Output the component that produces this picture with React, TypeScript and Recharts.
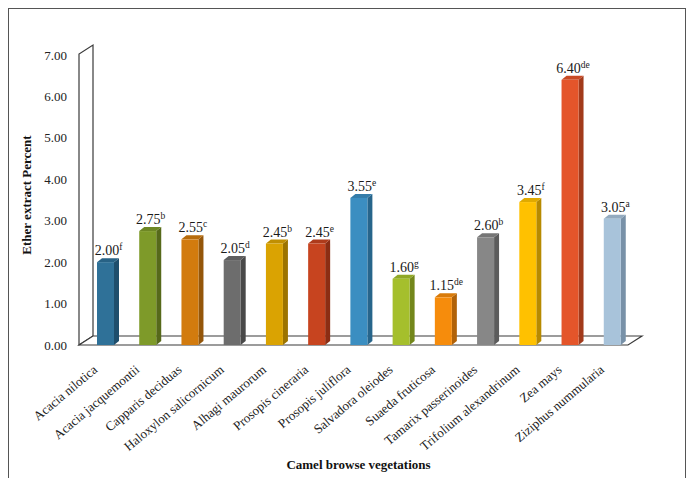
import React from 'react';
import { BarChart, Bar, XAxis, YAxis, ReferenceArea, LabelList, Label } from 'recharts';

const categories = [
  'Acacia nilotica',
  'Acacia jacquemontii',
  'Capparis deciduas',
  'Haloxylon salicornicum',
  'Alhagi maurorum',
  'Prosopis cineraria',
  'Prosopis juliflora',
  'Salvadora oleiodes',
  'Suaeda fruticosa',
  'Tamarix passerinoides',
  'Trifolium alexandrinum',
  'Zea mays',
  'Ziziphus nummularia',
];
const values = [2.0, 2.75, 2.55, 2.05, 2.45, 2.45, 3.55, 1.6, 1.15, 2.6, 3.45, 6.4, 3.05];
const letters = ['f', 'b', 'c', 'd', 'b', 'e', 'e', 'g', 'de', 'b', 'f', 'de', 'a'];
const yTicks = [0, 1, 2, 3, 4, 5, 6, 7];

const frontColors = ['#2F7198', '#7E9A29', '#D27B0E', '#6D6D6D', '#DAA302', '#C7441F', '#3B8EC1', '#A5BF2C', '#F68C0C', '#878787', '#FFC100', '#E4552A', '#A8C3DA'];
const sideColors = ['#1E4E6C', '#56691A', '#94560A', '#494949', '#9C7400', '#8C2D13', '#27658B', '#73871B', '#B16208', '#5C5C5C', '#B78A00', '#A23A1B', '#7891A8'];
const topColors = ['#286285', '#6E8724', '#B76C0C', '#5E5E5E', '#C08F02', '#AE3B1B', '#337CA9', '#91A826', '#D97B0A', '#767676', '#E0AA00', '#C84A24', '#93AABF'];

const data = categories.map((name, i) => ({ name, value: values[i], letter: letters[i] }));

const FONT = '"Liberation Serif", "Times New Roman", serif';
const DEPTH_X = 5;
const DEPTH_Y = 4;

function Bar3D(props: any) {
  const { x, y, width, height, index } = props;
  if (width == null || height == null) return null;
  const f = frontColors[index % frontColors.length];
  const s = sideColors[index % sideColors.length];
  const t = topColors[index % topColors.length];
  const side = `${x + width},${y} ${x + width + DEPTH_X},${y - DEPTH_Y} ${x + width + DEPTH_X},${y + height - DEPTH_Y} ${x + width},${y + height}`;
  const top = `${x},${y} ${x + DEPTH_X},${y - DEPTH_Y} ${x + width + DEPTH_X},${y - DEPTH_Y} ${x + width},${y}`;
  return (
    <g>
      <polygon points={side} fill={s} />
      <polygon points={top} fill={t} />
      <rect x={x} y={y} width={width} height={height} fill={f} />
    </g>
  );
}

function WallShape(props: any) {
  const { x, y, width, height } = props;
  const L = x;
  const T = y;
  const B = y + height;
  const R = x + width;
  const dx = 14;
  const dy = 9;
  const fl = L - 5;
  const fr = R - 5;
  const st = { stroke: '#3a3a3a', strokeWidth: 1.2 } as const;
  return (
    <g>
      <polygon points={`${fl},${B} ${fl},${T - 1} ${fl + dx},${T - 1 - dy} ${fl + dx},${B - dy}`} {...st} fill="#ffffff" />
      <polygon points={`${fl},${B} ${fl + dx},${B - dy} ${fr + dx},${B - dy} ${fr},${B}`} {...st} fill="#ffffff" />
    </g>
  );
}

function XTick(props: any) {
  const { x, y, payload } = props;
  const ax = x - 7;
  const ay = y + 18;
  return (
    <text
      x={ax}
      y={ay}
      transform={`rotate(-40, ${ax}, ${ay})`}
      textAnchor="end"
      fontFamily={FONT}
      fontSize={13}
      fill="#222"
      style={{ fill: '#222' }}
    >
      {payload.value}
    </text>
  );
}

function YTick(props: any) {
  const { x, y, payload } = props;
  return (
    <text x={x} y={y + 4.5} textAnchor="end" fontFamily={FONT} fontSize={13} fill="#222" style={{ fill: '#222' }}>
      {Number(payload.value).toFixed(2)}
    </text>
  );
}

function ValueLabel(props: any) {
  const { x, y, width, value, index } = props;
  const letter = letters[index] ?? '';
  return (
    <text
      x={x + width / 2 + 3}
      y={y - 7}
      textAnchor="middle"
      fontFamily={FONT}
      fontSize={14}
      fill="#1a1a1a"
      style={{ fill: '#1a1a1a' }}
    >
      {Number(value).toFixed(2)}
      <tspan fontSize={9.5} dy={-5} style={{ fill: '#1a1a1a' }}>{letter}</tspan>
    </text>
  );
}

export default function App() {
  return (
    <div
      style={{
        width: 678,
        height: 480,
        border: '1px solid #555',
        boxSizing: 'border-box',
        background: '#fff',
      }}
    >
      <BarChart
        width={676}
        height={470}
        data={data}
        margin={{ top: 46, right: 52, left: 0, bottom: 34 }}
        barCategoryGap={0}
      >
        <ReferenceArea y1={0} y2={7} shape={<WallShape />} ifOverflow="visible" />
        <XAxis
          dataKey="name"
          interval={0}
          height={100}
          axisLine={false}
          tickLine={false}
          tick={<XTick />}
        >
          <Label
            content={(p: any) => {
              const vb = p.viewBox || {};
              return (
                <text
                  x={vb.x + vb.width / 2}
                  y={vb.y + 124}
                  textAnchor="middle"
                  fontFamily={FONT}
                  fontSize={13}
                  fontWeight="bold"
                  fill="#111"
                >
                  Camel browse vegetations
                </text>
              );
            }}
          />
        </XAxis>
        <YAxis
          domain={[0, 7]}
          ticks={yTicks}
          width={75}
          axisLine={false}
          tickLine={false}
          tickSize={0}
          tickMargin={17}
          tick={<YTick />}
        >
          <Label
            content={(p: any) => {
              const vb = p.viewBox || {};
              const cx = 22;
              const cy = vb.y + vb.height / 2 - 5;
              return (
                <text
                  x={cx}
                  y={cy}
                  transform={`rotate(-90, ${cx}, ${cy})`}
                  textAnchor="middle"
                  fontFamily={FONT}
                  fontSize={13}
                  fontWeight="bold"
                  fill="#111"
                >
                  Ether extract Percent
                </text>
              );
            }}
          />
        </YAxis>
        <Bar dataKey="value" barSize={17} shape={<Bar3D />} isAnimationActive={false}>
          <LabelList dataKey="value" content={<ValueLabel />} />
        </Bar>
      </BarChart>
    </div>
  );
}
